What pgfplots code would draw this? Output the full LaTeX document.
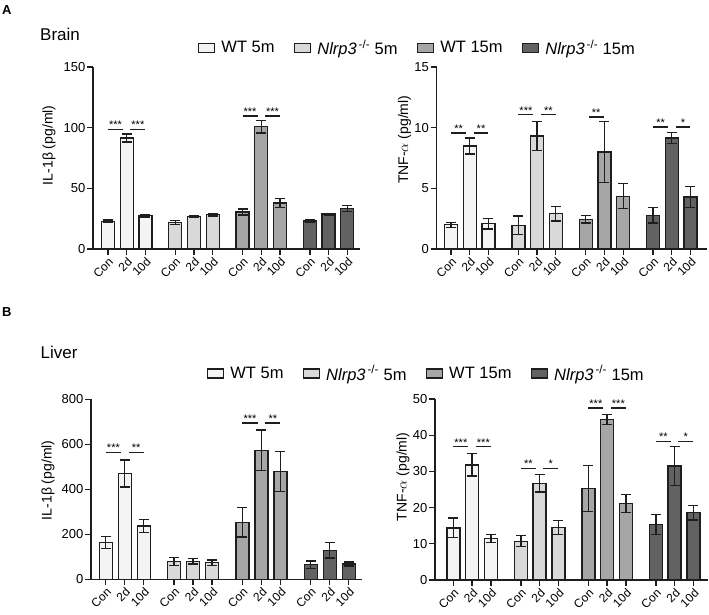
\documentclass[border=0pt]{standalone}
\usepackage{fontspec}
\setmainfont{Liberation Sans}
\usepackage{pgfplots}
\pgfplotsset{compat=1.18}
\definecolor{cA}{HTML}{F4F4F4}
\definecolor{cB}{HTML}{D9D9D9}
\definecolor{cC}{HTML}{A6A6A6}
\definecolor{cD}{HTML}{626262}
\definecolor{edge}{HTML}{1E1E1E}
\newcommand{\nlrp}{\textit{Nlrp3}\textsuperscript{\,-/-}}
\pgfplotsset{
  bars/.style={ybar, bar shift=0pt, bar width=13pt, draw=edge, line width=1.3pt, fill=#1,
    legend image code/.code={\draw[draw=edge,fill=#1,line width=1.2pt] (0pt,-4.5pt) rectangle (16pt,4.5pt);},
    error bars/.cd, y dir=both, y explicit,
    error bar style={line width=1.3pt, edge},
    error mark options={rotate=90, line width=1.3pt, mark size=5pt, edge}},
  sig/.style={sharp plot, no marks, line width=1.3pt, edge, forget plot},
  panel/.style={
    scale only axis, clip=false,
    axis x line*=bottom, axis y line*=left,
    axis line style={line width=1.3pt, edge},
    tick style={line width=1.3pt, edge},
    tick align=outside, major tick length=6pt,
    ymin=0,
    xtick={0,1,2,3.6,4.6,5.6,7.2,8.2,9.2,10.8,11.8,12.8},
    xticklabels={Con,2d,10d,Con,2d,10d,Con,2d,10d,Con,2d,10d},
    xticklabel style={rotate=45, anchor=north east, inner sep=1pt, font=\fontsize{12}{14}\selectfont},
    yticklabel style={inner sep=1.5pt, font=\fontsize{13}{15}\selectfont},
    /pgf/number format/assume math mode=true,
    ylabel style={font=\fontsize{14}{16}\selectfont, anchor=center},
  },
  leg/.style={legend columns=4, legend cell align=left,
    legend style={draw=none, fill=none, inner sep=0pt, anchor=west, font=\fontsize{16.5}{19}\selectfont,
      /tikz/every odd column/.append style={column sep=4pt},
      /tikz/every even column/.append style={column sep=17.5pt}}},
}
\newcommand{\stars}[3]{\node[anchor=base, inner sep=0pt, font=\fontsize{11}{12}\selectfont] at (axis cs:#1,#2) {#3};}
\begin{document}
\begin{tikzpicture}[x=1pt,y=1pt]
\useasboundingbox (0,0) rectangle (709,615);
\node[anchor=base west, inner sep=0pt, font=\fontsize{13}{15}\selectfont\bfseries] at (2,600) {A};
\node[anchor=base west, inner sep=0pt, font=\fontsize{13}{15}\selectfont\bfseries] at (2,298) {B};
\node[anchor=base west, inner sep=0pt, font=\fontsize{17}{20}\selectfont] at (40,574) {Brain};
\node[anchor=base west, inner sep=0pt, font=\fontsize{17}{20}\selectfont] at (40.5,256) {Liver};

% ---------- A left: Brain IL-1b
\begin{axis}[panel, leg, at={(93pt,366pt)}, anchor=south west, width=267.4pt, height=182pt,
  xmin=-0.8, xmax=13.5, ymax=150, ytick={0,50,100,150},
  ylabel={IL-1β (pg/ml)}, ylabel style={at={(axis description cs:-0.165,0.57)}},
  legend style={at={(axis description cs:0.393,1.105)}}]
\addplot[bars=cA] coordinates {(0,22.8)+-(0,1.2) (1,91.5)+-(0,3.2) (2,27.5)+-(0,1.1)};
\addlegendentry{WT 5m}
\addplot[bars=cB] coordinates {(3.6,21.7)+-(0,1.6) (4.6,26.9)+-(0,0.8) (5.6,28.3)+-(0,1.2)};
\addlegendentry{\nlrp\ 5m}
\addplot[bars=cC] coordinates {(7.2,30.5)+-(0,2.5) (8.2,100.8)+-(0,5.2) (9.2,37.9)+-(0,3.6)};
\addlegendentry{WT 15m}
\addplot[bars=cD] coordinates {(10.8,23.1)+-(0,0.9) (11.8,28.8)+-(0,0.7) (12.8,33.2)+-(0,2.4)};
\addlegendentry{\nlrp\ 15m}
\addplot[sig] coordinates {(0,98.5) (0.8,98.5)};
\addplot[sig] coordinates {(1.2,98.5) (2,98.5)};
\addplot[sig] coordinates {(7.2,109.6) (8.0,109.6)};
\addplot[sig] coordinates {(8.4,109.6) (9.2,109.6)};
\stars{0.4}{99}{***}\stars{1.6}{99}{***}
\stars{7.6}{110.1}{***}\stars{8.8}{110.1}{***}
\end{axis}

% ---------- A right: Brain TNF-a
\begin{axis}[panel, at={(436.5pt,366pt)}, anchor=south west, width=270.8pt, height=182pt,
  xmin=-0.78, xmax=13.7, ymax=15, ytick={0,5,10,15},
  ylabel={TNF-$\alpha$ (pg/ml)}, ylabel style={at={(axis description cs:-0.118,0.6)}}]
\addplot[bars=cA] coordinates {(0,2.0)+-(0,0.2) (1,8.49)+-(0,0.67) (2,2.09)+-(0,0.44)};
\addplot[bars=cB] coordinates {(3.6,1.95)+-(0,0.77) (4.6,9.31)+-(0,1.22) (5.6,2.91)+-(0,0.6)};
\addplot[bars=cC] coordinates {(7.2,2.45)+-(0,0.3) (8.2,8.0)+-(0,2.5) (9.2,4.34)+-(0,1.03)};
\addplot[bars=cD] coordinates {(10.8,2.77)+-(0,0.63) (11.8,9.15)+-(0,0.44) (12.8,4.29)+-(0,0.88)};
\addplot[sig] coordinates {(0,9.56) (0.8,9.56)};
\addplot[sig] coordinates {(1.2,9.56) (2,9.56)};
\addplot[sig] coordinates {(3.6,11.07) (4.4,11.07)};
\addplot[sig] coordinates {(4.8,11.07) (5.6,11.07)};
\addplot[sig] coordinates {(7.35,10.88) (8.15,10.88)};
\addplot[sig] coordinates {(10.8,10.05) (11.6,10.05)};
\addplot[sig] coordinates {(12.0,10.05) (12.8,10.05)};
\stars{0.4}{9.6}{**}\stars{1.6}{9.6}{**}
\stars{4.0}{11.11}{***}\stars{5.2}{11.11}{**}
\stars{7.75}{10.92}{**}
\stars{11.2}{10.09}{**}\stars{12.4}{10.09}{*}
\end{axis}

% ---------- B left: Liver IL-1b
\begin{axis}[panel, leg, at={(91pt,35.7pt)}, anchor=south west, width=271pt, height=180pt,
  xmin=-0.78, xmax=13.5, ymax=800, ytick={0,200,400,600,800},
  ylabel={IL-1β (pg/ml)}, ylabel style={at={(axis description cs:-0.159,0.55)}},
  legend style={at={(axis description cs:0.428,1.143)}}]
\addplot[bars=cA] coordinates {(0,164)+-(0,27) (1,470)+-(0,60) (2,237)+-(0,29)};
\addlegendentry{WT 5m}
\addplot[bars=cB] coordinates {(3.6,78)+-(0,18) (4.6,80)+-(0,12) (5.6,74)+-(0,12)};
\addlegendentry{\nlrp\ 5m}
\addplot[bars=cC] coordinates {(7.2,253)+-(0,65) (8.2,574)+-(0,89) (9.2,479)+-(0,90)};
\addlegendentry{WT 15m}
\addplot[bars=cD] coordinates {(10.8,65)+-(0,16) (11.8,129)+-(0,34) (12.8,68)+-(0,9)};
\addlegendentry{\nlrp\ 15m}
\addplot[sig] coordinates {(0,564) (0.8,564)};
\addplot[sig] coordinates {(1.2,564) (2,564)};
\addplot[sig] coordinates {(7.2,695) (8.0,695)};
\addplot[sig] coordinates {(8.4,695) (9.2,695)};
\stars{0.4}{567}{***}\stars{1.6}{567}{**}
\stars{7.6}{698}{***}\stars{8.8}{698}{**}
\end{axis}

% ---------- B right: Liver TNF-a
\begin{axis}[panel, at={(435pt,35pt)}, anchor=south west, width=273pt, height=181pt,
  xmin=-0.98, xmax=13.58, ymax=50, ytick={0,10,20,30,40,50},
  ylabel={TNF-$\alpha$ (pg/ml)}, ylabel style={at={(axis description cs:-0.117,0.57)}}]
\addplot[bars=cA] coordinates {(0,14.4)+-(0,2.7) (1,31.8)+-(0,3.1) (2,11.4)+-(0,1.1)};
\addplot[bars=cB] coordinates {(3.6,10.7)+-(0,1.5) (4.6,26.7)+-(0,2.4) (5.6,14.5)+-(0,2.0)};
\addplot[bars=cC] coordinates {(7.2,25.3)+-(0,6.3) (8.2,44.3)+-(0,1.4) (9.2,21.2)+-(0,2.5)};
\addplot[bars=cD] coordinates {(10.8,15.3)+-(0,2.8) (11.8,31.5)+-(0,5.4) (12.8,18.6)+-(0,2.0)};
\addplot[sig] coordinates {(0,36.8) (0.8,36.8)};
\addplot[sig] coordinates {(1.2,36.8) (2,36.8)};
\addplot[sig] coordinates {(3.6,30.8) (4.4,30.8)};
\addplot[sig] coordinates {(4.8,30.8) (5.6,30.8)};
\addplot[sig] coordinates {(7.2,47.5) (8.0,47.5)};
\addplot[sig] coordinates {(8.4,47.5) (9.2,47.5)};
\addplot[sig] coordinates {(10.8,38.3) (11.6,38.3)};
\addplot[sig] coordinates {(12.0,38.3) (12.8,38.3)};
\stars{0.4}{37.0}{***}\stars{1.6}{37.0}{***}
\stars{4.0}{31.0}{**}\stars{5.2}{31.0}{*}
\stars{7.6}{47.7}{***}\stars{8.8}{47.7}{***}
\stars{11.2}{38.5}{**}\stars{12.4}{38.5}{*}
\end{axis}
\end{tikzpicture}
\end{document}
